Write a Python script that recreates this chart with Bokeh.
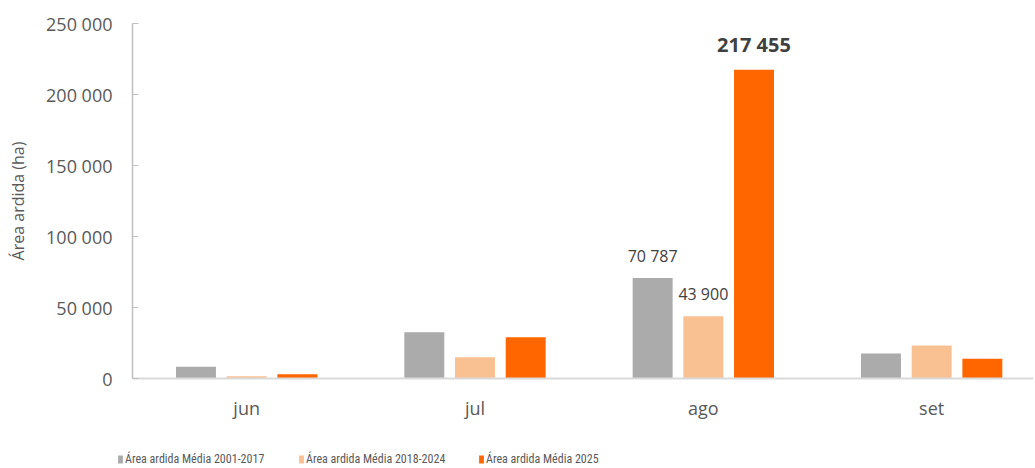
from bokeh.plotting import figure
from bokeh.models import Range1d, FixedTicker, ColumnDataSource, LabelSet, Legend, LegendItem
from bokeh.core.properties import value
from bokeh.embed import file_html
from bokeh.resources import INLINE

# ---- data ----
months = ["jun", "jul", "ago", "set"]
media_2001_2017 = [8200, 32500, 70787, 17600]
media_2018_2024 = [1600, 15000, 43900, 23200]
media_2025 = [3000, 29100, 217455, 13900]
series_names = ["Área ardida Média 2001-2017", "Área ardida Média 2018-2024", "Área ardida Média 2025"]
y_ticks = [0, 50000, 100000, 150000, 200000, 250000]

colors = ["#ababab", "#f9c192", "#ff6600"]
TXT = "#595959"
FONT = "Open Sans"
LEG_FONT = "Roboto Condensed, Liberation Sans Narrow, Liberation Sans"
W = 1033

p = figure(width=W, height=432, output_backend="svg", toolbar_location=None,
           x_range=Range1d(0, 3.946), y_range=Range1d(0, 250000),
           min_border_left=132, min_border_right=0, min_border_top=23, min_border_bottom=54)
p.outline_line_color = None
p.xgrid.visible = False
p.ygrid.visible = False

x_centers = [i + 0.5 for i in range(len(months))]
offsets = [-0.222, 0.0, 0.222]
sources = []
for vals, off, col in zip([media_2001_2017, media_2018_2024, media_2025], offsets, colors):
    src = ColumnDataSource(dict(x=[c + off for c in x_centers], top=vals))
    sources.append(src)
    p.vbar(x="x", top="top", width=0.175, source=src, fill_color=col, line_color=None)

# data labels for "ago"
ago_idx = months.index("ago")
lab_src = ColumnDataSource(dict(
    x=[x_centers[ago_idx] + o for o in offsets[:2]],
    y=[media_2001_2017[ago_idx], media_2018_2024[ago_idx]],
    t=[f"{v:,}".replace(",", " ") for v in [media_2001_2017[ago_idx], media_2018_2024[ago_idx]]],
))
p.add_layout(LabelSet(x="x", y="y", text="t", source=lab_src, text_align="center", text_baseline="middle",
                      y_offset=22, text_font=value(FONT), text_font_size="16px", text_color="#404040"))
big_src = ColumnDataSource(dict(
    x=[x_centers[ago_idx] + offsets[2]], y=[media_2025[ago_idx]],
    t=[f"{media_2025[ago_idx]:,}".replace(",", " ")],
))
p.add_layout(LabelSet(x="x", y="y", text="t", source=big_src, text_align="center", text_baseline="middle",
                      y_offset=25, text_font=value(FONT), text_font_size="20px", text_font_style="bold",
                      text_color="#404040"))

# y axis
ya = p.yaxis[0]
ya.ticker = FixedTicker(ticks=y_ticks)
ya.major_label_overrides = {v: f"{v:,}".replace(",", " ") for v in y_ticks}
ya.major_label_text_font = FONT
ya.major_label_text_font_size = "18px"
ya.major_label_text_color = TXT
ya.major_label_standoff = 20
ya.major_tick_in = 6
ya.major_tick_out = 0
ya.major_tick_line_color = "#bfbfbf"
ya.minor_tick_line_color = None
ya.axis_line_color = "#bfbfbf"
ya.axis_line_width = 1.5
ya.axis_label = "Área ardida (ha)"
ya.axis_label_text_font = FONT
ya.axis_label_text_font_size = "16px"
ya.axis_label_text_font_style = "normal"
ya.axis_label_text_color = TXT
ya.axis_label_standoff = 14

# x axis
xa = p.xaxis[0]
xa.ticker = FixedTicker(ticks=x_centers)
xa.major_label_overrides = {c: m for c, m in zip(x_centers, months)}
xa.major_label_text_font = FONT
xa.major_label_text_font_size = "18px"
xa.major_label_text_color = TXT
xa.major_label_standoff = 11
xa.major_tick_line_color = None
xa.minor_tick_line_color = None
xa.axis_line_color = "#d9d9d9"
xa.axis_line_width = 2

# legend strip below the chart (separate root, so it is not frame-aligned)
p2 = figure(width=W, height=34, output_backend="svg", toolbar_location=None,
            x_axis_location=None, y_axis_location=None, min_border=0,
            x_range=Range1d(-2, -1), y_range=Range1d(-2, -1))
p2.outline_line_color = None
p2.xgrid.visible = False
p2.ygrid.visible = False
leg_x = [117, 298, 478]
for name, src, col, lx in zip(series_names, sources, colors, leg_x):
    r = p2.vbar(x="x", top="top", width=0.01, source=src, fill_color=col, line_color=None)
    lg = Legend(items=[LegendItem(label=name, renderers=[r])], location=(lx, 0),
                glyph_width=6, glyph_height=10, label_standoff=2,
                padding=0, margin=0, border_line_color=None, background_fill_alpha=0,
                label_text_font=LEG_FONT, label_text_font_size="12px",
                label_text_color=TXT, label_height=14)
    p2.add_layout(lg, "center")

open("out.html", "w").write(file_html([p, p2], INLINE))
